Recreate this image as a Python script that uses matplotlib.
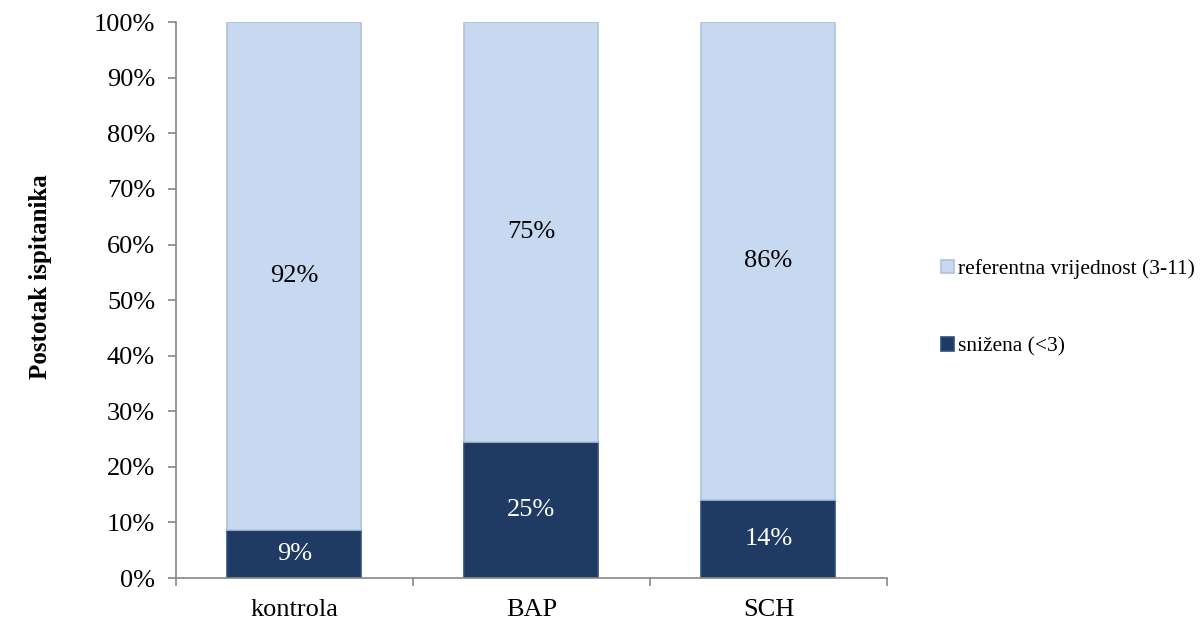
import matplotlib.pyplot as plt
import numpy as np

plt.rcParams['font.family'] = ['Liberation Serif', 'DejaVu Serif']

groups = ["kontrola", "BAP", "SCH"]
snizena = [8.6, 24.5, 14.0]           # bar heights
referentna = [91.4, 75.5, 86.0]
snizena_txt = ["9%", "25%", "14%"]
referentna_txt = ["92%", "75%", "86%"]

dark = "#1F3B63"
light = "#C6D9F1"
axis_col = "#868686"

fig = plt.figure(figsize=(12.01, 6.28), dpi=100)
ax = fig.add_axes([0.1465, 0.0796, 0.592, 0.885])

x = np.arange(len(groups))
width = 0.565
ax.bar(x, snizena, width, color=dark, edgecolor="#2E4F7A", linewidth=1.2,
       label="snižena (<3)")
ax.bar(x, referentna, width, bottom=snizena, color=light, edgecolor="#AFC2DA",
       linewidth=1.2, label="referentna vrijednost (3-11)")

for xi, h, t in zip(x, snizena, snizena_txt):
    ax.text(xi, h / 2, t, ha="center", va="center", color="white", fontsize=19)
for xi, b, h, t in zip(x, snizena, referentna, referentna_txt):
    ax.text(xi, b + h / 2, t, ha="center", va="center", color="black", fontsize=19)

ax.set_xlim(-0.5, len(groups) - 0.5)
ax.set_ylim(0, 100)
ax.set_yticks(np.arange(0, 101, 10))
ax.set_yticklabels([f"{v}%" for v in range(0, 101, 10)], fontsize=19)
ax.set_xticks(x)
ax.set_xticklabels(groups, fontsize=19)
ax.set_xticks(np.arange(-0.5, len(groups)), minor=True)
ax.tick_params(axis="x", which="major", length=0, pad=15)
ax.tick_params(axis="x", which="minor", length=6, color=axis_col, width=1.2)
ax.tick_params(axis="y", length=6, color=axis_col, width=1.2, pad=9)

for s in ["top", "right"]:
    ax.spines[s].set_visible(False)
for s in ["left", "bottom"]:
    ax.spines[s].set_color(axis_col)
    ax.spines[s].set_linewidth(1.2)

fig.text(0.034, 0.56, "Postotak ispitanika", rotation=90, ha="center", va="center",
         fontsize=18, fontweight="bold")

handles, labels = ax.get_legend_handles_labels()
ax.legend(handles[::-1], labels[::-1], loc="center left", bbox_to_anchor=(1.076, 0.486),
          frameon=False, fontsize=15.5, handlelength=0.6, handleheight=0.6,
          handletextpad=0.2, labelspacing=2.7, borderaxespad=0, borderpad=0)

fig.savefig("out.png", dpi=100)
